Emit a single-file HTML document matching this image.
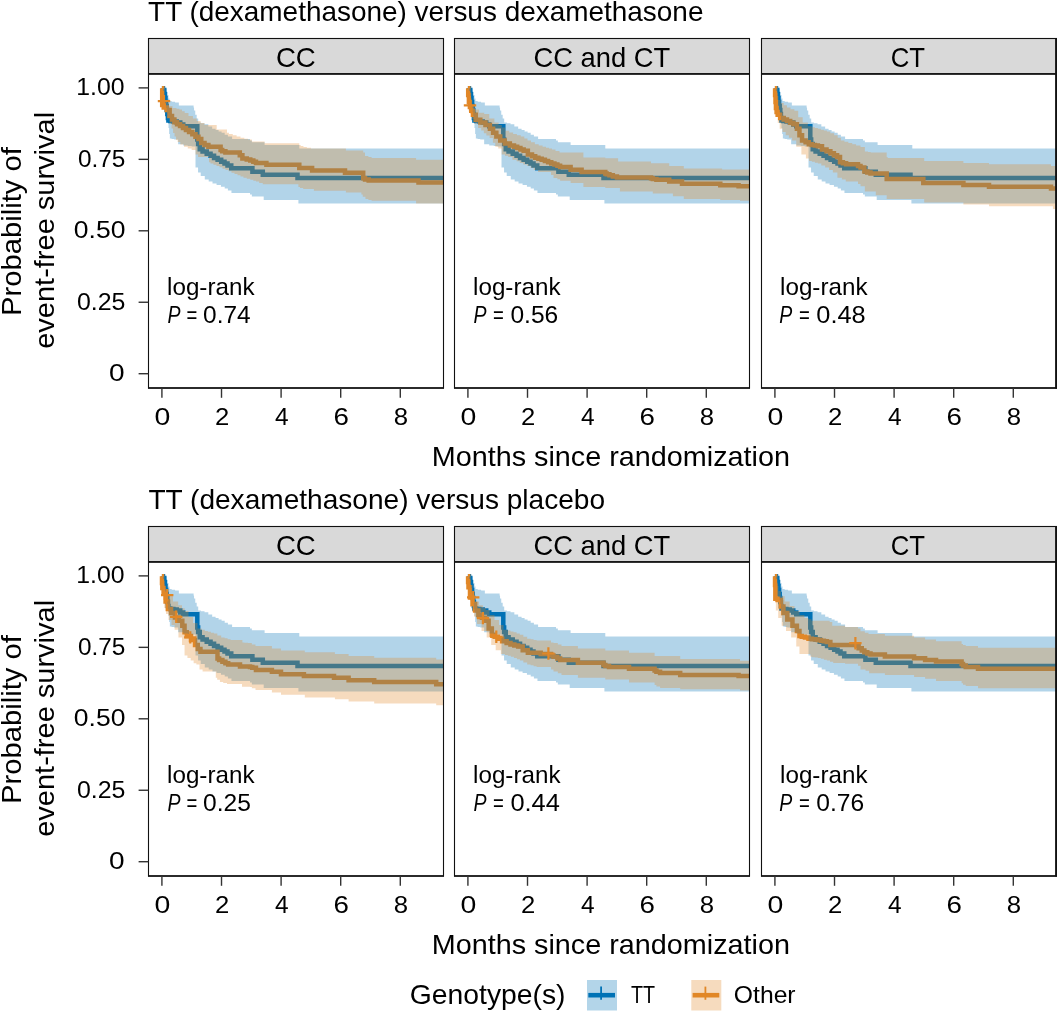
<!DOCTYPE html>
<html><head><meta charset="utf-8"><style>
html,body{margin:0;padding:0;background:#fff;width:1057px;height:1012px;overflow:hidden}
svg{display:block;will-change:transform}
text{font-family:"Liberation Sans", sans-serif}
</style></head><body>
<svg width="1057" height="1012" viewBox="0 0 1057 1012" font-family='"Liberation Sans", sans-serif'>
<rect width="1057" height="1012" fill="#fff"/>
<text x="148.07" y="20.90" font-size="27.8" textLength="555.37" lengthAdjust="spacingAndGlyphs" fill="#000" >TT (dexamethasone) versus dexamethasone</text>
<rect x="148.5" y="38.5" width="295.0" height="35.099999999999994" fill="#d9d9d9" stroke="#111" stroke-width="1.1"/>
<text x="275.90" y="66.80" font-size="27.8" textLength="39.85" lengthAdjust="spacingAndGlyphs" fill="#000" >CC</text>
<rect x="148.5" y="74.3" width="295.0" height="313.7" fill="#fff"/>
<clipPath id="c00"><rect x="148.5" y="73.8" width="295.0" height="314.2"/></clipPath><g clip-path="url(#c00)"><path d="M161.9,88.3H162.95V90.00H164.30V94.00H164.90V98.00H165.50V102.00H166.10V106.00H166.70V110.00H167.30V114.00H167.90V118.00H168.40V120.50H170.20V121.00H173.40V121.50H176.75V122.50H180.25V124.50H183.25V126.30H197.30V139.50H198.15V144.00H199.75V149.30H202.57V151.55H206.73V153.80H210.55V155.85H214.05V157.90H217.60V159.80H221.20V161.70H224.50V163.60H227.50V165.50H231.25V168.20H252.40V171.80H262.80V174.70H297.50V178.00H443.5" fill="none" stroke="#0072B5" stroke-width="4.5"/><path d="M161.9,88.3H162.20V105.00H163.75V107.50H166.75V110.00H169.65V116.00H172.00V119.50H174.40V122.30H177.07V124.15H180.03V126.00H182.97V128.00H185.93V130.00H189.05V132.10H192.35V134.20H195.47V136.65H198.43V139.10H201.25V143.00H204.53V144.90H208.38V146.80H220.60V150.00H222.20V151.30H225.40V152.60H239.80V155.20H242.40V158.40H246.75V159.50H250.25V160.60H253.32V161.80H255.98V163.00H266.40V164.80H299.30V167.90H312.10V170.60H345.00V172.80H363.20V178.30H365.02V179.45H368.68V180.60H418.50V182.60H443.5" fill="none" stroke="#E18727" stroke-width="4.5"/><path d="M161.9,88.3H163.95V89.00H166.50V92.00H167.50V95.00H168.50V98.50H169.50V101.00H171.70V101.80H175.10V102.60H178.85V105.50H193.60V107.50H194.05V110.50H195.25V114.70H196.70V118.60H198.20V122.40H200.85V123.35H204.55V124.30H208.32V126.55H212.18V128.80H215.60V130.10H218.60V131.40H221.60V132.70H224.70V134.65H227.90V136.60H232.10V139.10H250.00V140.40H251.85V142.30H264.60V145.10H299.30V148.40H443.5V203.50H298.40V199.90H263.70V196.50H251.85V194.50H250.00V193.10H231.45V190.50H227.90V188.60H224.70V186.70H220.93V185.10H216.57V183.50H212.50V181.45H208.70V179.40H204.78V175.90H200.72V172.40H198.05V167.40H195.50V146.50H191.65V146.05H187.75V145.60H183.25V144.30H178.15V139.50H174.25V139.00H171.55V138.50H169.85V134.00H169.15V128.00H168.50V121.00H167.90V116.00H167.30V112.00H166.70V108.00H166.10V104.00H165.50V100.00H164.90V96.00H164.30V91.00H162.95V88.30H161.9Z" fill="#0072B5" fill-opacity="0.3"/><path d="M161.9,88.3H162.45V92.00H163.50V95.00H165.00V100.00H167.00V103.00H169.00V106.00H172.50V108.00H176.43V108.80H179.27V109.60H182.02V111.30H184.68V113.00H188.50V116.00H192.93V118.55H196.77V121.10H200.62V123.05H204.47V125.00H216.70V129.50H227.00V132.70H228.93V134.00H232.77V135.30H236.62V136.55H240.47V137.80H244.30V138.70H248.10V139.60H251.85V141.40H264.60V143.30H299.30V145.10H300.68V146.00H303.43V146.90H306.85V147.65H310.95V148.40H345.90V150.60H363.20V152.40H365.00V156.00H368.40V156.95H371.60V157.90H416.10V159.70H443.5V203.50H416.10V200.80H371.60V199.90H368.40V199.00H365.45V196.70H362.75V194.40H361.40V192.60H345.90V190.70H313.90V188.90H303.20V187.95H300.00V187.00H298.40V184.30H262.78V182.95H259.12V181.60H255.98V180.70H253.32V179.80H250.25V178.75H246.75V177.70H243.50V176.47H240.50V175.23H237.50V174.00H234.50V172.67H231.50V171.33H228.50V170.00H225.50V168.67H222.50V167.33H219.50V166.00H216.50V164.77H213.50V163.53H210.50V162.30H209.00V157.10H198.05V154.50H195.50V150.00H191.65V148.40H187.75V146.80H183.98V144.40H180.32V142.00H177.65V140.00H176.05V136.50H174.55V133.00H173.05V128.50H171.55V124.00H169.65V118.00H167.25V112.00H165.00V108.00H163.50V100.00H162.45V88.30H161.9Z" fill="#E18727" fill-opacity="0.3"/><path d="M157.8,101.2h12.4M164.0,95.0v12.4" stroke="#E18727" stroke-width="2.2"/></g>
<rect x="148.5" y="74.3" width="295.0" height="313.7" fill="none" stroke="#111" stroke-width="1.1"/>
<line x1="148.0" y1="388.0" x2="444.0" y2="388.0" stroke="#111" stroke-width="1.6"/>
<line x1="161.91" y1="388.0" x2="161.91" y2="397.8" stroke="#333" stroke-width="1.4"/>
<text x="154.60" y="424.90" font-size="24.2" textLength="15.82" lengthAdjust="spacingAndGlyphs" fill="#000" >0</text>
<line x1="221.51" y1="388.0" x2="221.51" y2="397.8" stroke="#333" stroke-width="1.4"/>
<text x="214.96" y="424.90" font-size="24.2" textLength="14.28" lengthAdjust="spacingAndGlyphs" fill="#000" >2</text>
<line x1="281.10" y1="388.0" x2="281.10" y2="397.8" stroke="#333" stroke-width="1.4"/>
<text x="274.99" y="424.90" font-size="24.2" textLength="13.58" lengthAdjust="spacingAndGlyphs" fill="#000" >4</text>
<line x1="340.70" y1="388.0" x2="340.70" y2="397.8" stroke="#333" stroke-width="1.4"/>
<text x="333.49" y="424.90" font-size="24.2" textLength="15.43" lengthAdjust="spacingAndGlyphs" fill="#000" >6</text>
<line x1="400.29" y1="388.0" x2="400.29" y2="397.8" stroke="#333" stroke-width="1.4"/>
<text x="393.72" y="424.90" font-size="24.2" textLength="14.34" lengthAdjust="spacingAndGlyphs" fill="#000" >8</text>
<text x="167.07" y="294.80" font-size="24.2" textLength="87.43" lengthAdjust="spacingAndGlyphs" fill="#000" >log-rank</text>
<text x="167.40" y="322.50" font-size="23.5" font-style="italic" textLength="13.02" lengthAdjust="spacingAndGlyphs" fill="#000" >P</text>
<text x="186.60" y="322.50" font-size="23.5" textLength="10.82" lengthAdjust="spacingAndGlyphs" fill="#000" >=</text>
<text x="203.05" y="322.50" font-size="23.5" textLength="47.57" lengthAdjust="spacingAndGlyphs" fill="#000" >0.74</text>
<rect x="454.5" y="38.5" width="295.0" height="35.099999999999994" fill="#d9d9d9" stroke="#111" stroke-width="1.1"/>
<text x="533.41" y="66.80" font-size="27.8" textLength="136.82" lengthAdjust="spacingAndGlyphs" fill="#000" >CC and CT</text>
<rect x="454.5" y="74.3" width="295.0" height="313.7" fill="#fff"/>
<clipPath id="c01"><rect x="454.5" y="73.8" width="295.0" height="314.2"/></clipPath><g clip-path="url(#c01)"><path d="M467.9,88.3H468.95V90.00H470.30V94.00H470.90V98.00H471.50V102.00H472.10V106.00H472.70V110.00H473.30V114.00H473.90V118.00H474.40V120.50H476.20V121.00H479.40V121.50H482.75V122.50H486.25V124.50H489.25V126.30H503.30V139.50H504.15V144.00H505.75V149.30H508.57V151.55H512.72V153.80H516.55V155.85H520.05V157.90H523.60V159.80H527.20V161.70H530.50V163.60H533.50V165.50H537.25V168.20H558.40V171.80H568.80V174.70H603.50V178.00H749.5" fill="none" stroke="#0072B5" stroke-width="4.5"/><path d="M467.9,88.3H468.20V95.00H468.90V102.00H469.90V107.00H471.25V110.80H472.95V114.70H475.80V119.80H480.30V122.40H485.45V125.00H489.90V128.80H493.10V132.70H496.35V136.60H500.20V140.40H504.70V143.60H509.85V145.60H514.00V146.85H517.20V148.10H520.42V149.40H523.67V150.70H527.85V154.50H532.00V156.15H535.20V157.80H538.42V158.75H541.67V159.70H544.90V161.00H548.10V162.30H551.28V163.40H554.42V164.50H557.38V165.75H560.12V167.00H570.60V169.70H581.60V172.10H605.30V173.40H606.67V174.30H609.42V175.20H612.85V176.40H616.95V177.60H651.00V178.30H652.80V179.05H656.40V179.80H669.20V181.60H682.00V183.80H720.30V185.30H738.60V186.20H749.5" fill="none" stroke="#E18727" stroke-width="4.5"/><path d="M467.9,88.3H469.95V89.00H472.50V92.00H473.50V95.00H474.50V98.50H475.50V101.00H477.70V101.80H481.10V102.60H484.85V105.50H499.60V107.50H500.05V110.50H501.25V114.70H502.70V118.60H504.20V122.40H506.85V123.35H510.55V124.30H514.33V126.55H518.17V128.80H521.60V130.10H524.60V131.40H527.60V132.70H530.70V134.65H533.90V136.60H538.10V139.10H556.00V140.40H557.85V142.30H570.60V145.10H605.30V148.40H749.5V203.50H604.40V199.90H569.70V196.50H557.85V194.50H556.00V193.10H537.45V190.50H533.90V188.60H530.70V186.70H526.92V185.10H522.58V183.50H518.50V181.45H514.70V179.40H510.77V175.90H506.72V172.40H504.05V167.40H501.50V146.50H497.65V146.05H493.75V145.60H489.25V144.30H484.15V139.50H480.25V139.00H477.55V138.50H475.85V134.00H475.15V128.00H474.50V121.00H473.90V116.00H473.30V112.00H472.70V108.00H472.10V104.00H471.50V100.00H470.90V96.00H470.30V91.00H468.95V88.30H467.9Z" fill="#0072B5" fill-opacity="0.3"/><path d="M467.9,88.3H468.45V93.00H469.75V98.00H471.55V105.70H474.50V109.60H479.00V112.80H484.15V114.10H489.25V118.60H494.40V122.40H498.60V125.00H501.80V127.60H505.35V130.80H509.23V132.40H513.08V134.00H516.92V135.30H520.78V136.60H524.30V138.50H527.50V140.40H531.02V142.35H534.88V144.30H538.72V145.55H542.58V146.80H546.00V147.67H549.00V148.53H552.00V149.40H555.50V150.90H559.50V152.40H583.40V157.50H605.30V158.20H618.10V161.50H651.00V163.30H669.20V166.10H683.80V168.50H722.10V169.40H749.5V200.80H740.00V199.90H720.30V198.90H683.80V196.20H672.90V193.50H652.80V191.60H619.90V188.00H605.30V187.10H583.40V183.10H570.60V180.70H560.12V179.35H557.38V178.00H553.50V175.10H551.00V171.90H538.10V170.00H533.90V168.05H530.70V166.10H527.17V164.50H523.33V162.90H519.80V161.30H516.60V159.70H512.40V157.10H508.20V155.80H505.00V154.50H501.70V148.60H498.25V146.80H495.30V142.70H492.90V137.90H489.65V135.60H486.40V133.20H483.88V130.55H481.22V127.90H478.10V123.70H474.65V119.00H472.00V114.00H470.25V108.00H469.00V100.00H468.20V88.30H467.9Z" fill="#E18727" fill-opacity="0.3"/><path d="M463.8,105.3h12.4M470.0,99.1v12.4" stroke="#E18727" stroke-width="2.2"/></g>
<rect x="454.5" y="74.3" width="295.0" height="313.7" fill="none" stroke="#111" stroke-width="1.1"/>
<line x1="454.0" y1="388.0" x2="750.0" y2="388.0" stroke="#111" stroke-width="1.6"/>
<line x1="467.91" y1="388.0" x2="467.91" y2="397.8" stroke="#333" stroke-width="1.4"/>
<text x="460.60" y="424.90" font-size="24.2" textLength="15.82" lengthAdjust="spacingAndGlyphs" fill="#000" >0</text>
<line x1="527.51" y1="388.0" x2="527.51" y2="397.8" stroke="#333" stroke-width="1.4"/>
<text x="520.96" y="424.90" font-size="24.2" textLength="14.28" lengthAdjust="spacingAndGlyphs" fill="#000" >2</text>
<line x1="587.10" y1="388.0" x2="587.10" y2="397.8" stroke="#333" stroke-width="1.4"/>
<text x="580.99" y="424.90" font-size="24.2" textLength="13.58" lengthAdjust="spacingAndGlyphs" fill="#000" >4</text>
<line x1="646.70" y1="388.0" x2="646.70" y2="397.8" stroke="#333" stroke-width="1.4"/>
<text x="639.49" y="424.90" font-size="24.2" textLength="15.43" lengthAdjust="spacingAndGlyphs" fill="#000" >6</text>
<line x1="706.29" y1="388.0" x2="706.29" y2="397.8" stroke="#333" stroke-width="1.4"/>
<text x="699.72" y="424.90" font-size="24.2" textLength="14.34" lengthAdjust="spacingAndGlyphs" fill="#000" >8</text>
<text x="473.07" y="294.80" font-size="24.2" textLength="87.43" lengthAdjust="spacingAndGlyphs" fill="#000" >log-rank</text>
<text x="473.40" y="322.50" font-size="23.5" font-style="italic" textLength="13.02" lengthAdjust="spacingAndGlyphs" fill="#000" >P</text>
<text x="493.10" y="322.50" font-size="23.5" textLength="10.82" lengthAdjust="spacingAndGlyphs" fill="#000" >=</text>
<text x="510.44" y="322.50" font-size="23.5" textLength="47.84" lengthAdjust="spacingAndGlyphs" fill="#000" >0.56</text>
<rect x="761.5" y="38.5" width="295.0" height="35.099999999999994" fill="#d9d9d9" stroke="#111" stroke-width="1.1"/>
<text x="890.69" y="66.80" font-size="27.8" textLength="34.30" lengthAdjust="spacingAndGlyphs" fill="#000" >CT</text>
<rect x="761.5" y="74.3" width="295.0" height="313.7" fill="#fff"/>
<clipPath id="c02"><rect x="761.5" y="73.8" width="295.0" height="314.2"/></clipPath><g clip-path="url(#c02)"><path d="M774.9,88.3H775.95V90.00H777.30V94.00H777.90V98.00H778.50V102.00H779.10V106.00H779.70V110.00H780.30V114.00H780.90V118.00H781.40V120.50H783.20V121.00H786.40V121.50H789.75V122.50H793.25V124.50H796.25V126.30H810.30V139.50H811.15V144.00H812.75V149.30H815.58V151.55H819.72V153.80H823.55V155.85H827.05V157.90H830.60V159.80H834.20V161.70H837.50V163.60H840.50V165.50H844.25V168.20H865.40V171.80H875.80V174.70H910.50V178.00H1056.5" fill="none" stroke="#0072B5" stroke-width="4.5"/><path d="M774.9,88.3H775.10V95.00H775.50V102.00H775.95V108.00H776.60V112.00H777.65V114.70H780.20V117.90H783.73V119.50H786.98V121.10H790.20V122.70H793.40V124.30H796.90V128.80H799.45V135.30H802.05V140.40H805.60V142.35H808.80V144.30H811.90V144.93H814.90V145.57H817.90V146.20H822.00V149.40H826.52V151.35H830.38V153.30H833.90V155.20H837.10V157.10H840.00V162.30H842.90V163.25H846.10V164.20H858.00V166.10H860.50V167.50H864.35V171.60H867.30V172.50H870.50V173.40H886.70V178.90H923.30V183.10H963.40V184.90H989.00V186.70H1051.00V188.50H1056.5" fill="none" stroke="#E18727" stroke-width="4.5"/><path d="M774.9,88.3H776.95V89.00H779.50V92.00H780.50V95.00H781.50V98.50H782.50V101.00H784.70V101.80H788.10V102.60H791.85V105.50H806.60V107.50H807.05V110.50H808.25V114.70H809.70V118.60H811.20V122.40H813.85V123.35H817.55V124.30H821.33V126.55H825.17V128.80H828.60V130.10H831.60V131.40H834.60V132.70H837.70V134.65H840.90V136.60H845.10V139.10H863.00V140.40H864.85V142.30H877.60V145.10H912.30V148.40H1056.5V203.50H911.40V199.90H876.70V196.50H864.85V194.50H863.00V193.10H844.45V190.50H840.90V188.60H837.70V186.70H833.92V185.10H829.58V183.50H825.50V181.45H821.70V179.40H817.77V175.90H813.73V172.40H811.05V167.40H808.50V146.50H804.65V146.05H800.75V145.60H796.25V144.30H791.15V139.50H787.25V139.00H784.55V138.50H782.85V134.00H782.15V128.00H781.50V121.00H780.90V116.00H780.30V112.00H779.70V108.00H779.10V104.00H778.50V100.00H777.90V96.00H777.30V91.00H775.95V88.30H774.9Z" fill="#0072B5" fill-opacity="0.3"/><path d="M774.9,88.3H775.45V92.00H776.75V96.00H778.50V100.00H780.80V103.10H783.73V105.35H786.98V107.60H790.52V109.20H794.38V110.80H798.20V117.30H802.70V122.40H807.85V126.30H811.90V127.13H814.90V127.97H817.90V128.80H820.90V129.67H823.90V130.53H826.90V131.40H830.33V133.35H834.17V135.30H837.70V137.85H840.90V140.40H844.45V141.70H848.35V143.00H852.22V144.30H856.08V145.60H860.50V146.90H864.85V151.50H868.05V151.95H870.75V152.40H886.70V157.00H887.65V157.90H924.20V161.00H963.40V163.00H989.00V164.30H1051.00V166.10H1056.5V209.00H1052.90V206.20H989.00V204.40H963.40V202.60H924.20V198.90H886.70V195.30H875.80V191.60H864.85V186.20H860.50V184.10H858.00V181.50H845.78V179.60H841.92V177.70H837.40V172.50H832.88V169.95H829.02V167.40H825.17V165.45H821.33V163.50H817.90V162.67H814.90V161.83H811.90V161.00H809.10V158.40H805.90V154.50H801.40V146.80H796.25V140.40H792.10V137.85H788.90V135.30H785.70V132.05H782.50V128.80H779.70V123.00H777.75V117.00H776.40V110.00H775.55V100.00H775.10V88.30H774.9Z" fill="#E18727" fill-opacity="0.3"/></g>
<rect x="761.5" y="74.3" width="295.0" height="313.7" fill="none" stroke="#111" stroke-width="1.1"/>
<line x1="761.0" y1="388.0" x2="1057.0" y2="388.0" stroke="#111" stroke-width="1.6"/>
<line x1="774.91" y1="388.0" x2="774.91" y2="397.8" stroke="#333" stroke-width="1.4"/>
<text x="767.60" y="424.90" font-size="24.2" textLength="15.82" lengthAdjust="spacingAndGlyphs" fill="#000" >0</text>
<line x1="834.51" y1="388.0" x2="834.51" y2="397.8" stroke="#333" stroke-width="1.4"/>
<text x="827.96" y="424.90" font-size="24.2" textLength="14.28" lengthAdjust="spacingAndGlyphs" fill="#000" >2</text>
<line x1="894.10" y1="388.0" x2="894.10" y2="397.8" stroke="#333" stroke-width="1.4"/>
<text x="887.99" y="424.90" font-size="24.2" textLength="13.58" lengthAdjust="spacingAndGlyphs" fill="#000" >4</text>
<line x1="953.70" y1="388.0" x2="953.70" y2="397.8" stroke="#333" stroke-width="1.4"/>
<text x="946.49" y="424.90" font-size="24.2" textLength="15.43" lengthAdjust="spacingAndGlyphs" fill="#000" >6</text>
<line x1="1013.29" y1="388.0" x2="1013.29" y2="397.8" stroke="#333" stroke-width="1.4"/>
<text x="1006.72" y="424.90" font-size="24.2" textLength="14.34" lengthAdjust="spacingAndGlyphs" fill="#000" >8</text>
<text x="780.07" y="294.80" font-size="24.2" textLength="87.43" lengthAdjust="spacingAndGlyphs" fill="#000" >log-rank</text>
<text x="779.30" y="322.50" font-size="23.5" font-style="italic" textLength="13.02" lengthAdjust="spacingAndGlyphs" fill="#000" >P</text>
<text x="799.00" y="322.50" font-size="23.5" textLength="10.82" lengthAdjust="spacingAndGlyphs" fill="#000" >=</text>
<text x="816.31" y="322.50" font-size="23.5" textLength="49.39" lengthAdjust="spacingAndGlyphs" fill="#000" >0.48</text>
<rect x="1055.1" y="38.0" width="2" height="350.5" fill="#111"/>
<line x1="138.6" y1="87.89" x2="148.5" y2="87.89" stroke="#333" stroke-width="1.4"/>
<text x="76.21" y="95.00" font-size="24.2" textLength="48.26" lengthAdjust="spacingAndGlyphs" fill="#000" >1.00</text>
<line x1="138.6" y1="159.35" x2="148.5" y2="159.35" stroke="#333" stroke-width="1.4"/>
<text x="77.95" y="167.00" font-size="24.2" textLength="47.48" lengthAdjust="spacingAndGlyphs" fill="#000" >0.75</text>
<line x1="138.6" y1="230.80" x2="148.5" y2="230.80" stroke="#333" stroke-width="1.4"/>
<text x="73.86" y="237.70" font-size="24.2" textLength="51.57" lengthAdjust="spacingAndGlyphs" fill="#000" >0.50</text>
<line x1="138.6" y1="302.25" x2="148.5" y2="302.25" stroke="#333" stroke-width="1.4"/>
<text x="76.93" y="310.00" font-size="24.2" textLength="48.52" lengthAdjust="spacingAndGlyphs" fill="#000" >0.25</text>
<line x1="138.6" y1="373.71" x2="148.5" y2="373.71" stroke="#333" stroke-width="1.4"/>
<text x="108.91" y="380.60" font-size="24.2" textLength="15.59" lengthAdjust="spacingAndGlyphs" fill="#000" >0</text>
<text x="-85.70" y="0.00" font-size="27.8" textLength="168.95" lengthAdjust="spacingAndGlyphs" fill="#000" transform="translate(20.9,230.30) rotate(-90)">Probability of</text>
<text x="-118.13" y="0.00" font-size="27.8" textLength="236.97" lengthAdjust="spacingAndGlyphs" fill="#000" transform="translate(54.1,230.70) rotate(-90)">event-free survival</text>
<text x="431.74" y="465.90" font-size="27.8" textLength="358.23" lengthAdjust="spacingAndGlyphs" fill="#000" >Months since randomization</text>
<text x="148.47" y="508.90" font-size="27.8" textLength="456.61" lengthAdjust="spacingAndGlyphs" fill="#000" >TT (dexamethasone) versus placebo</text>
<rect x="148.5" y="526.5" width="295.0" height="35.099999999999994" fill="#d9d9d9" stroke="#111" stroke-width="1.1"/>
<text x="275.90" y="554.80" font-size="27.8" textLength="39.85" lengthAdjust="spacingAndGlyphs" fill="#000" >CC</text>
<rect x="148.5" y="562.3" width="295.0" height="313.7" fill="#fff"/>
<clipPath id="c10"><rect x="148.5" y="561.8" width="295.0" height="314.2"/></clipPath><g clip-path="url(#c10)"><path d="M161.9,576.3H162.95V578.00H164.30V582.00H164.90V586.00H165.50V590.00H166.10V594.00H166.70V598.00H167.30V602.00H167.90V606.00H168.40V608.50H170.20V609.00H173.40V609.50H176.75V610.50H180.25V612.50H183.25V614.30H197.30V627.50H198.15V632.00H199.75V637.30H202.57V639.55H206.73V641.80H210.55V643.85H214.05V645.90H217.60V647.80H221.20V649.70H224.50V651.60H227.50V653.50H231.25V656.20H252.40V659.80H262.80V662.70H297.50V666.00H443.5" fill="none" stroke="#0072B5" stroke-width="4.5"/><path d="M161.9,576.3H162.00V583.00H162.35V588.00H163.60V593.70H165.60V601.40H167.85V609.10H171.05V613.00H174.95V617.50H178.80V620.70H182.30V625.80H184.55V632.30H186.80V636.10H191.00V640.00H195.05V645.00H197.75V649.00H200.45V651.80H217.50V658.40H219.12V660.10H222.38V661.80H225.40V663.20H228.20V664.60H240.00V666.50H250.00V667.00H252.30V667.80H255.95V670.00H271.90V671.80H281.00V674.20H303.90V676.00H334.00V677.80H348.60V680.20H374.20V682.00H436.20V684.20H443.5" fill="none" stroke="#E18727" stroke-width="4.5"/><path d="M161.9,576.3H163.95V577.00H166.50V580.00H167.50V583.00H168.50V586.50H169.50V589.00H171.70V589.80H175.10V590.60H178.85V593.50H193.60V595.50H194.05V598.50H195.25V602.70H196.70V606.60H198.20V610.40H200.85V611.35H204.55V612.30H208.32V614.55H212.18V616.80H215.60V618.10H218.60V619.40H221.60V620.70H224.70V622.65H227.90V624.60H232.10V627.10H250.00V628.40H251.85V630.30H264.60V633.10H299.30V636.40H443.5V691.50H298.40V687.90H263.70V684.50H251.85V682.50H250.00V681.10H231.45V678.50H227.90V676.60H224.70V674.70H220.93V673.10H216.57V671.50H212.50V669.45H208.70V667.40H204.78V663.90H200.72V660.40H198.05V655.40H195.50V634.50H191.65V634.05H187.75V633.60H183.25V632.30H178.15V627.50H174.25V627.00H171.55V626.50H169.85V622.00H169.15V616.00H168.50V609.00H167.90V604.00H167.30V600.00H166.70V596.00H166.10V592.00H165.50V588.00H164.90V584.00H164.30V579.00H162.95V576.30H161.9Z" fill="#0072B5" fill-opacity="0.3"/><path d="M161.9,576.3H162.45V581.00H163.75V586.00H165.50V591.00H168.45V596.30H173.00V601.40H178.15V605.30H182.02V608.15H184.68V611.00H188.50V617.00H193.00V623.00H197.50V628.40H201.60V629.70H204.80V631.00H207.90V631.87H210.90V632.73H213.90V633.60H217.32V635.50H221.18V637.40H224.60V638.27H227.60V639.13H230.60V640.00H242.40V642.60H244.30V642.85H248.10V643.10H251.82V644.50H255.48V645.90H271.90V648.60H281.00V650.40H304.80V652.30H334.90V654.10H348.60V655.90H374.20V657.70H436.20V659.60H443.5V705.30H436.20V703.50H374.20V701.60H348.60V699.30H334.90V697.40H304.80V694.70H281.00V692.50H271.90V690.10H255.50V688.30H251.85V687.00H250.00V686.70H242.00V684.00H227.00V682.95H223.20V681.90H219.93V679.85H217.18V677.80H215.80V671.50H202.60V669.40H199.50V664.60H196.40V663.20H193.65V660.50H190.68V657.95H187.43V655.40H184.55V645.10H182.00V637.40H178.45V629.70H174.60V625.00H171.50V620.00H168.50V614.00H166.00V608.00H164.25V600.00H163.00V590.00H162.20V576.30H161.9Z" fill="#E18727" fill-opacity="0.3"/><path d="M161.0,595.2h12.4M167.2,589.0v12.4" stroke="#E18727" stroke-width="2.2"/><path d="M170.0,616.8h12.4M176.2,610.6v12.4" stroke="#E18727" stroke-width="2.2"/><path d="M184.1,637.4h12.4M190.3,631.2v12.4" stroke="#E18727" stroke-width="2.2"/></g>
<rect x="148.5" y="562.3" width="295.0" height="313.7" fill="none" stroke="#111" stroke-width="1.1"/>
<line x1="148.0" y1="876.0" x2="444.0" y2="876.0" stroke="#111" stroke-width="1.6"/>
<line x1="161.91" y1="876.0" x2="161.91" y2="885.8" stroke="#333" stroke-width="1.4"/>
<text x="154.60" y="912.90" font-size="24.2" textLength="15.82" lengthAdjust="spacingAndGlyphs" fill="#000" >0</text>
<line x1="221.51" y1="876.0" x2="221.51" y2="885.8" stroke="#333" stroke-width="1.4"/>
<text x="214.96" y="912.90" font-size="24.2" textLength="14.28" lengthAdjust="spacingAndGlyphs" fill="#000" >2</text>
<line x1="281.10" y1="876.0" x2="281.10" y2="885.8" stroke="#333" stroke-width="1.4"/>
<text x="274.99" y="912.90" font-size="24.2" textLength="13.58" lengthAdjust="spacingAndGlyphs" fill="#000" >4</text>
<line x1="340.70" y1="876.0" x2="340.70" y2="885.8" stroke="#333" stroke-width="1.4"/>
<text x="333.49" y="912.90" font-size="24.2" textLength="15.43" lengthAdjust="spacingAndGlyphs" fill="#000" >6</text>
<line x1="400.29" y1="876.0" x2="400.29" y2="885.8" stroke="#333" stroke-width="1.4"/>
<text x="393.72" y="912.90" font-size="24.2" textLength="14.34" lengthAdjust="spacingAndGlyphs" fill="#000" >8</text>
<text x="167.07" y="782.80" font-size="24.2" textLength="87.43" lengthAdjust="spacingAndGlyphs" fill="#000" >log-rank</text>
<text x="167.40" y="810.50" font-size="23.5" font-style="italic" textLength="13.02" lengthAdjust="spacingAndGlyphs" fill="#000" >P</text>
<text x="186.60" y="810.50" font-size="23.5" textLength="10.82" lengthAdjust="spacingAndGlyphs" fill="#000" >=</text>
<text x="203.04" y="810.50" font-size="23.5" textLength="47.89" lengthAdjust="spacingAndGlyphs" fill="#000" >0.25</text>
<rect x="454.5" y="526.5" width="295.0" height="35.099999999999994" fill="#d9d9d9" stroke="#111" stroke-width="1.1"/>
<text x="533.41" y="554.80" font-size="27.8" textLength="136.82" lengthAdjust="spacingAndGlyphs" fill="#000" >CC and CT</text>
<rect x="454.5" y="562.3" width="295.0" height="313.7" fill="#fff"/>
<clipPath id="c11"><rect x="454.5" y="561.8" width="295.0" height="314.2"/></clipPath><g clip-path="url(#c11)"><path d="M467.9,576.3H468.95V578.00H470.30V582.00H470.90V586.00H471.50V590.00H472.10V594.00H472.70V598.00H473.30V602.00H473.90V606.00H474.40V608.50H476.20V609.00H479.40V609.50H482.75V610.50H486.25V612.50H489.25V614.30H503.30V627.50H504.15V632.00H505.75V637.30H508.57V639.55H512.72V641.80H516.55V643.85H520.05V645.90H523.60V647.80H527.20V649.70H530.50V651.60H533.50V653.50H537.25V656.20H558.40V659.80H568.80V662.70H603.50V666.00H749.5" fill="none" stroke="#0072B5" stroke-width="4.5"/><path d="M467.9,576.3H468.10V582.00H468.50V587.30H470.00V597.60H472.60V604.00H475.15V610.40H478.35V614.90H481.90V617.80H485.10V620.70H488.65V628.40H491.85V634.80H494.73V636.75H497.98V638.70H502.15V641.30H506.62V642.90H510.47V644.50H514.33V645.45H518.17V646.40H522.70V650.30H527.85V652.80H540.70V654.10H551.00V655.40H553.50V656.80H557.38V658.45H560.12V660.10H577.90V662.70H603.50V665.00H605.33V665.95H608.97V666.90H629.00V668.70H654.60V670.50H656.42V671.70H660.08V672.90H680.20V675.10H738.60V676.00H749.5" fill="none" stroke="#E18727" stroke-width="4.5"/><path d="M467.9,576.3H469.95V577.00H472.50V580.00H473.50V583.00H474.50V586.50H475.50V589.00H477.70V589.80H481.10V590.60H484.85V593.50H499.60V595.50H500.05V598.50H501.25V602.70H502.70V606.60H504.20V610.40H506.85V611.35H510.55V612.30H514.33V614.55H518.17V616.80H521.60V618.10H524.60V619.40H527.60V620.70H530.70V622.65H533.90V624.60H538.10V627.10H556.00V628.40H557.85V630.30H570.60V633.10H605.30V636.40H749.5V691.50H604.40V687.90H569.70V684.50H557.85V682.50H556.00V681.10H537.45V678.50H533.90V676.60H530.70V674.70H526.92V673.10H522.58V671.50H518.50V669.45H514.70V667.40H510.77V663.90H506.72V660.40H504.05V655.40H501.50V634.50H497.65V634.05H493.75V633.60H489.25V632.30H484.15V627.50H480.25V627.00H477.55V626.50H475.85V622.00H475.15V616.00H474.50V609.00H473.90V604.00H473.30V600.00H472.70V596.00H472.10V592.00H471.50V588.00H470.90V584.00H470.30V579.00H468.95V576.30H467.9Z" fill="#0072B5" fill-opacity="0.3"/><path d="M467.9,576.3H468.45V582.00H469.75V588.00H471.75V595.00H474.70V601.40H479.00V605.30H482.95V607.65H485.65V610.00H489.50V615.00H494.50V620.00H499.00V625.00H503.50V629.70H507.50V630.57H510.50V631.43H513.50V632.30H516.60V633.55H519.80V634.80H523.33V636.75H527.17V638.70H530.60V639.33H533.60V639.97H536.60V640.60H551.00V642.60H553.50V643.10H557.83V644.50H561.47V645.90H577.90V648.60H605.30V650.40H629.00V652.80H654.60V655.90H680.20V659.00H740.00V660.80H749.5V690.60H740.00V689.30H680.20V687.90H660.08V686.50H656.42V685.10H654.60V682.40H629.00V679.60H605.30V677.80H577.90V675.10H561.47V673.25H557.83V671.40H553.50V669.50H551.00V667.00H536.60V666.13H533.60V665.27H530.60V664.40H527.17V662.45H523.33V660.50H519.90V659.23H516.90V657.97H513.90V656.70H510.90V655.83H507.90V654.97H504.90V654.10H500.85V650.30H495.70V645.10H491.20V637.40H486.70V631.00H481.55V624.00H477.05V616.80H474.05V612.00H472.00V607.00H470.25V600.00H469.00V590.00H468.20V576.30H467.9Z" fill="#E18727" fill-opacity="0.3"/><path d="M467.0,597.3h12.4M473.2,591.1v12.4" stroke="#E18727" stroke-width="2.2"/><path d="M476.7,618.1h12.4M482.9,611.9v12.4" stroke="#E18727" stroke-width="2.2"/><path d="M490.1,636.8h12.4M496.3,630.6v12.4" stroke="#E18727" stroke-width="2.2"/><path d="M542.2,653.5h12.4M548.4,647.3v12.4" stroke="#E18727" stroke-width="2.2"/></g>
<rect x="454.5" y="562.3" width="295.0" height="313.7" fill="none" stroke="#111" stroke-width="1.1"/>
<line x1="454.0" y1="876.0" x2="750.0" y2="876.0" stroke="#111" stroke-width="1.6"/>
<line x1="467.91" y1="876.0" x2="467.91" y2="885.8" stroke="#333" stroke-width="1.4"/>
<text x="460.60" y="912.90" font-size="24.2" textLength="15.82" lengthAdjust="spacingAndGlyphs" fill="#000" >0</text>
<line x1="527.51" y1="876.0" x2="527.51" y2="885.8" stroke="#333" stroke-width="1.4"/>
<text x="520.96" y="912.90" font-size="24.2" textLength="14.28" lengthAdjust="spacingAndGlyphs" fill="#000" >2</text>
<line x1="587.10" y1="876.0" x2="587.10" y2="885.8" stroke="#333" stroke-width="1.4"/>
<text x="580.99" y="912.90" font-size="24.2" textLength="13.58" lengthAdjust="spacingAndGlyphs" fill="#000" >4</text>
<line x1="646.70" y1="876.0" x2="646.70" y2="885.8" stroke="#333" stroke-width="1.4"/>
<text x="639.49" y="912.90" font-size="24.2" textLength="15.43" lengthAdjust="spacingAndGlyphs" fill="#000" >6</text>
<line x1="706.29" y1="876.0" x2="706.29" y2="885.8" stroke="#333" stroke-width="1.4"/>
<text x="699.72" y="912.90" font-size="24.2" textLength="14.34" lengthAdjust="spacingAndGlyphs" fill="#000" >8</text>
<text x="473.07" y="782.80" font-size="24.2" textLength="87.43" lengthAdjust="spacingAndGlyphs" fill="#000" >log-rank</text>
<text x="473.40" y="810.50" font-size="23.5" font-style="italic" textLength="13.02" lengthAdjust="spacingAndGlyphs" fill="#000" >P</text>
<text x="493.10" y="810.50" font-size="23.5" textLength="10.82" lengthAdjust="spacingAndGlyphs" fill="#000" >=</text>
<text x="510.41" y="810.50" font-size="23.5" textLength="49.44" lengthAdjust="spacingAndGlyphs" fill="#000" >0.44</text>
<rect x="761.5" y="526.5" width="295.0" height="35.099999999999994" fill="#d9d9d9" stroke="#111" stroke-width="1.1"/>
<text x="890.69" y="554.80" font-size="27.8" textLength="34.30" lengthAdjust="spacingAndGlyphs" fill="#000" >CT</text>
<rect x="761.5" y="562.3" width="295.0" height="313.7" fill="#fff"/>
<clipPath id="c12"><rect x="761.5" y="561.8" width="295.0" height="314.2"/></clipPath><g clip-path="url(#c12)"><path d="M774.9,576.3H775.95V578.00H777.30V582.00H777.90V586.00H778.50V590.00H779.10V594.00H779.70V598.00H780.30V602.00H780.90V606.00H781.40V608.50H783.20V609.00H786.40V609.50H789.75V610.50H793.25V612.50H796.25V614.30H810.30V627.50H811.15V632.00H812.75V637.30H815.58V639.55H819.72V641.80H823.55V643.85H827.05V645.90H830.60V647.80H834.20V649.70H837.50V651.60H840.50V653.50H844.25V656.20H865.40V659.80H875.80V662.70H910.50V666.00H1056.5" fill="none" stroke="#0072B5" stroke-width="4.5"/><path d="M774.9,576.3H775.05V585.00H775.35V598.80H777.55V600.00H780.85V606.60H783.40V613.00H787.30V619.40H792.45V625.80H796.90V631.00H799.45V636.10H801.73V636.75H804.98V637.40H808.50V638.70H811.90V639.13H814.90V639.57H817.90V640.00H820.90V640.63H823.90V641.27H826.90V641.90H830.35V645.10H856.70V645.80H858.60V648.30H861.75V650.50H864.35V652.30H867.30V653.45H870.50V654.60H884.90V656.50H914.10V658.30H925.10V660.10H936.00V661.40H961.60V664.10H962.98V665.50H965.73V666.90H978.00V668.70H1056.5" fill="none" stroke="#E18727" stroke-width="4.5"/><path d="M774.9,576.3H776.95V577.00H779.50V580.00H780.50V583.00H781.50V586.50H782.50V589.00H784.70V589.80H788.10V590.60H791.85V593.50H806.60V595.50H807.05V598.50H808.25V602.70H809.70V606.60H811.20V610.40H813.85V611.35H817.55V612.30H821.33V614.55H825.17V616.80H828.60V618.10H831.60V619.40H834.60V620.70H837.70V622.65H840.90V624.60H845.10V627.10H863.00V628.40H864.85V630.30H877.60V633.10H912.30V636.40H1056.5V691.50H911.40V687.90H876.70V684.50H864.85V682.50H863.00V681.10H844.45V678.50H840.90V676.60H837.70V674.70H833.92V673.10H829.58V671.50H825.50V669.45H821.70V667.40H817.77V663.90H813.73V660.40H811.05V655.40H808.50V634.50H804.65V634.05H800.75V633.60H796.25V632.30H791.15V627.50H787.25V627.00H784.55V626.50H782.85V622.00H782.15V616.00H781.50V609.00H780.90V604.00H780.30V600.00H779.70V596.00H779.10V592.00H778.50V588.00H777.90V584.00H777.30V579.00H775.95V576.30H774.9Z" fill="#0072B5" fill-opacity="0.3"/><path d="M774.9,576.3H775.45V581.00H776.75V586.00H778.50V591.00H780.80V596.30H784.70V601.40H789.65V606.00H794.50V611.00H799.50V615.00H804.50V618.00H808.50V619.35H811.50V620.70H829.70V622.00H832.25V625.80H845.10V627.10H858.00V628.40H860.50V631.30H864.83V632.65H868.47V634.00H884.90V635.80H914.10V637.60H925.10V639.50H936.00V641.30H961.60V644.00H962.98V644.95H965.73V645.90H978.00V647.70H1056.5V688.20H978.00V686.00H965.73V684.65H962.98V683.30H961.60V680.90H936.00V678.70H925.10V676.90H914.10V675.10H884.90V673.30H869.15V670.80H865.55V669.50H860.55V665.70H858.00V663.80H845.10V663.10H833.20V661.80H830.00V660.50H826.90V659.67H823.90V658.83H820.90V658.00H817.90V657.57H814.90V657.13H811.90V656.70H810.40V654.10H799.45V646.40H796.25V637.40H791.15V631.00H786.00V625.80H781.70V618.00H778.20V610.40H775.85V595.00H775.10V576.30H774.9Z" fill="#E18727" fill-opacity="0.3"/><path d="M849.2,643.2h12.4M855.4,637.0v12.4" stroke="#E18727" stroke-width="2.2"/></g>
<rect x="761.5" y="562.3" width="295.0" height="313.7" fill="none" stroke="#111" stroke-width="1.1"/>
<line x1="761.0" y1="876.0" x2="1057.0" y2="876.0" stroke="#111" stroke-width="1.6"/>
<line x1="774.91" y1="876.0" x2="774.91" y2="885.8" stroke="#333" stroke-width="1.4"/>
<text x="767.60" y="912.90" font-size="24.2" textLength="15.82" lengthAdjust="spacingAndGlyphs" fill="#000" >0</text>
<line x1="834.51" y1="876.0" x2="834.51" y2="885.8" stroke="#333" stroke-width="1.4"/>
<text x="827.96" y="912.90" font-size="24.2" textLength="14.28" lengthAdjust="spacingAndGlyphs" fill="#000" >2</text>
<line x1="894.10" y1="876.0" x2="894.10" y2="885.8" stroke="#333" stroke-width="1.4"/>
<text x="887.99" y="912.90" font-size="24.2" textLength="13.58" lengthAdjust="spacingAndGlyphs" fill="#000" >4</text>
<line x1="953.70" y1="876.0" x2="953.70" y2="885.8" stroke="#333" stroke-width="1.4"/>
<text x="946.49" y="912.90" font-size="24.2" textLength="15.43" lengthAdjust="spacingAndGlyphs" fill="#000" >6</text>
<line x1="1013.29" y1="876.0" x2="1013.29" y2="885.8" stroke="#333" stroke-width="1.4"/>
<text x="1006.72" y="912.90" font-size="24.2" textLength="14.34" lengthAdjust="spacingAndGlyphs" fill="#000" >8</text>
<text x="780.07" y="782.80" font-size="24.2" textLength="87.43" lengthAdjust="spacingAndGlyphs" fill="#000" >log-rank</text>
<text x="779.30" y="810.50" font-size="23.5" font-style="italic" textLength="13.02" lengthAdjust="spacingAndGlyphs" fill="#000" >P</text>
<text x="799.00" y="810.50" font-size="23.5" textLength="10.82" lengthAdjust="spacingAndGlyphs" fill="#000" >=</text>
<text x="816.34" y="810.50" font-size="23.5" textLength="47.94" lengthAdjust="spacingAndGlyphs" fill="#000" >0.76</text>
<rect x="1055.1" y="526.0" width="2" height="350.5" fill="#111"/>
<line x1="138.6" y1="575.89" x2="148.5" y2="575.89" stroke="#333" stroke-width="1.4"/>
<text x="76.21" y="583.00" font-size="24.2" textLength="48.26" lengthAdjust="spacingAndGlyphs" fill="#000" >1.00</text>
<line x1="138.6" y1="647.35" x2="148.5" y2="647.35" stroke="#333" stroke-width="1.4"/>
<text x="77.95" y="655.00" font-size="24.2" textLength="47.48" lengthAdjust="spacingAndGlyphs" fill="#000" >0.75</text>
<line x1="138.6" y1="718.80" x2="148.5" y2="718.80" stroke="#333" stroke-width="1.4"/>
<text x="73.86" y="725.70" font-size="24.2" textLength="51.57" lengthAdjust="spacingAndGlyphs" fill="#000" >0.50</text>
<line x1="138.6" y1="790.25" x2="148.5" y2="790.25" stroke="#333" stroke-width="1.4"/>
<text x="76.93" y="798.00" font-size="24.2" textLength="48.52" lengthAdjust="spacingAndGlyphs" fill="#000" >0.25</text>
<line x1="138.6" y1="861.71" x2="148.5" y2="861.71" stroke="#333" stroke-width="1.4"/>
<text x="108.91" y="868.60" font-size="24.2" textLength="15.59" lengthAdjust="spacingAndGlyphs" fill="#000" >0</text>
<text x="-85.70" y="0.00" font-size="27.8" textLength="168.95" lengthAdjust="spacingAndGlyphs" fill="#000" transform="translate(20.9,718.30) rotate(-90)">Probability of</text>
<text x="-118.13" y="0.00" font-size="27.8" textLength="236.97" lengthAdjust="spacingAndGlyphs" fill="#000" transform="translate(54.1,718.70) rotate(-90)">event-free survival</text>
<text x="431.74" y="953.90" font-size="27.8" textLength="358.23" lengthAdjust="spacingAndGlyphs" fill="#000" >Months since randomization</text>
<text x="409.78" y="1003.60" font-size="27.8" textLength="155.78" lengthAdjust="spacingAndGlyphs" fill="#000" >Genotype(s)</text>
<rect x="587.0" y="980" width="30" height="30.5" fill="#b3d5e9"/>
<line x1="588.3" y1="995.2" x2="615.0" y2="995.2" stroke="#0072B5" stroke-width="4.6"/>
<line x1="601.1" y1="986.6" x2="601.1" y2="999.8" stroke="#0072B5" stroke-width="1.8"/>
<text x="630.96" y="1002.70" font-size="23.6" textLength="24.10" lengthAdjust="spacingAndGlyphs" fill="#000" >TT</text>
<rect x="691.3" y="980" width="30" height="30.5" fill="#f6dbbe"/>
<line x1="692.5999999999999" y1="995.2" x2="719.3" y2="995.2" stroke="#E18727" stroke-width="4.6"/>
<line x1="705.4" y1="986.6" x2="705.4" y2="999.8" stroke="#E18727" stroke-width="1.8"/>
<text x="733.83" y="1002.70" font-size="23.6" textLength="61.78" lengthAdjust="spacingAndGlyphs" fill="#000" >Other</text>
</svg>
</body></html>
